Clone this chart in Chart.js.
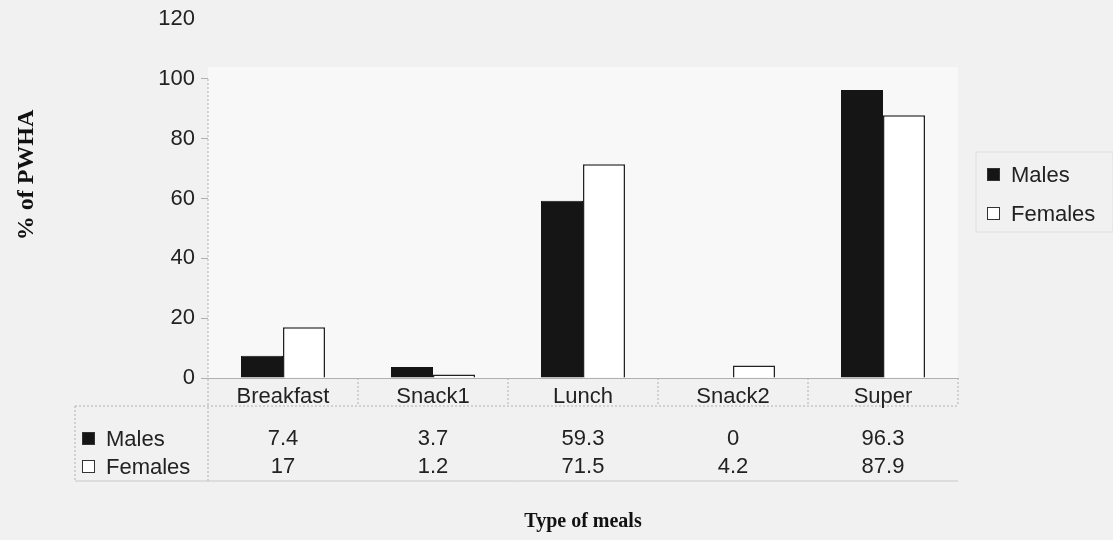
<!DOCTYPE html>
<html>
<head>
<meta charset="utf-8">
<script src="https://cdn.jsdelivr.net/npm/chart.js@4.4.0/dist/chart.umd.min.js"></script>
<style>
  html, body { margin: 0; padding: 0; background: #f1f1f1; }
  #wrap { width: 1113px; height: 540px; }
</style>
</head>
<body>
<div id="wrap"><canvas id="Chart" width="1113" height="540"></canvas></div>
<script>
// meals and % of PWHA per sex
const meals = ['Breakfast', 'Snack1', 'Lunch', 'Snack2', 'Super'];
const males = [7.4, 3.7, 59.3, 0, 96.3];
const females = [17, 1.2, 71.5, 4.2, 87.9];
const yTicks = [0, 20, 40, 60, 80, 100, 120];

const sansFont = '"Liberation Sans", Arial, sans-serif';
const serifFont = '"Liberation Serif", "Times New Roman", serif';
const lineGray = '#b0b0b0';

// draws the data table under the bars, the titles and the side legend
const tablePlugin = {
    id: 'tablePlugin',
    beforeDraw(chart) {
        const ctx = chart.ctx;
        const area = chart.chartArea;
        const y = chart.scales.y;
        ctx.save();
        ctx.fillStyle = '#f1f1f1';
        ctx.fillRect(0, 0, chart.width, chart.height);
        // lighter plot area
        ctx.fillStyle = '#f8f8f8';
        const top = y.getPixelForValue(104);
        ctx.fillRect(area.left, top, area.right - area.left, area.bottom - top);
        ctx.restore();
    },
    afterDraw(chart) {
        const ctx = chart.ctx;
        const area = chart.chartArea;
        const x = chart.scales.x;
        const y = chart.scales.y;
        const ds = chart.data.datasets;
        const half = (x.getPixelForValue(1) - x.getPixelForValue(0)) / 2;

        const labelRowBottom = area.bottom + 28;
        const rowMid = [area.bottom + 61, area.bottom + 89];
        const tableLeft = 75;
        const tableBottom = area.bottom + 103;

        ctx.save();
        ctx.strokeStyle = lineGray;
        ctx.lineWidth = 1;
        ctx.setLineDash([2, 2]);

        // value axis line and table lines
        ctx.beginPath();
        ctx.moveTo(area.left, y.getPixelForValue(100));
        ctx.lineTo(area.left, tableBottom);
        ctx.moveTo(tableLeft, labelRowBottom);
        ctx.lineTo(area.right, labelRowBottom);
        ctx.moveTo(tableLeft, labelRowBottom);
        ctx.lineTo(tableLeft, tableBottom);
        for (let i = 0; i < meals.length; i++) {
            const bx = x.getPixelForValue(i) + half;
            ctx.moveTo(bx, area.bottom);
            ctx.lineTo(bx, labelRowBottom);
        }
        ctx.stroke();
        ctx.setLineDash([]);
        ctx.strokeStyle = '#c8c8c8';
        ctx.beginPath();
        ctx.moveTo(tableLeft, tableBottom);
        ctx.lineTo(area.right, tableBottom);
        ctx.stroke();

        ctx.fillStyle = '#222';
        ctx.font = '22px ' + sansFont;
        ctx.textAlign = 'center';
        ctx.textBaseline = 'middle';
        for (let i = 0; i < meals.length; i++) {
            const cx = x.getPixelForValue(i);
            ctx.fillText(meals[i], cx, area.bottom + 19);
            ds.forEach(function(d, r) {
                ctx.fillText(String(d.data[i]), cx, rowMid[r]);
            });
        }

        // row headers with keys
        ds.forEach(function(d, r) {
            const ky = rowMid[r];
            drawKey(ctx, 82, ky, d);
            ctx.fillStyle = '#222';
            ctx.textAlign = 'left';
            ctx.fillText(d.label, 106, ky + 1);
        });

        // side legend
        ctx.strokeStyle = '#dedede';
        ctx.strokeRect(976, 152, 137, 80);
        ds.forEach(function(d, r) {
            const ly = 175 + r * 39;
            drawKey(ctx, 987, ly, d);
            ctx.fillStyle = '#222';
            ctx.textAlign = 'left';
            ctx.fillText(d.label, 1011, ly + 1);
        });

        // axis titles
        ctx.fillStyle = '#111';
        ctx.font = 'bold 20px ' + serifFont;
        ctx.textAlign = 'center';
        ctx.fillText('Type of meals', (area.left + area.right) / 2, 522);
        ctx.translate(27, 175);
        ctx.rotate(-Math.PI / 2);
        ctx.font = 'bold 24px ' + serifFont;
        ctx.fillText('% of PWHA', 0, 0);
        ctx.restore();
    }
};

function drawKey(ctx, kx, ky, d) {
    ctx.save();
    ctx.fillStyle = d.backgroundColor;
    ctx.fillRect(kx, ky - 7, 13, 13);
    ctx.strokeStyle = '#333';
    ctx.lineWidth = 1;
    ctx.strokeRect(kx + 0.5, ky - 6.5, 12, 12);
    ctx.restore();
}

var chart = document.getElementById('Chart').getContext('2d');
const myChart = new Chart(chart, {
    type: 'bar',
    data: {
        labels: meals,
        datasets: [{
            label: 'Males',
            data: males,
            backgroundColor: '#151515',
            borderColor: '#151515',
            borderWidth: 1
        }, {
            label: 'Females',
            data: females,
            backgroundColor: '#ffffff',
            borderColor: '#222222',
            borderWidth: 1.5
        }]
    },
    options: {
        responsive: false,
        animation: false,
        layout: {
            padding: { left: 0, right: 155, top: 17, bottom: 154 }
        },
        datasets: {
            bar: { barPercentage: 1, categoryPercentage: 0.56 }
        },
        plugins: {
            legend: { display: false },
            tooltip: { enabled: false }
        },
        scales: {
            x: {
                grid: { display: false },
                ticks: { display: false },
                border: { color: lineGray, dash: [2, 2] }
            },
            y: {
                min: 0,
                max: 120,
                afterFit: function(scale) { scale.width = 208; },
                afterBuildTicks: function(scale) {
                    scale.ticks = yTicks.map(function(v) { return { value: v }; });
                },
                grid: {
                    drawOnChartArea: false,
                    tickLength: 7,
                    color: function(c) { return c.tick && c.tick.value > 100 ? 'rgba(0,0,0,0)' : lineGray; }
                },
                border: { display: false },
                ticks: {
                    padding: 6,
                    color: '#222',
                    font: { family: sansFont, size: 22 }
                }
            }
        }
    },
    plugins: [tablePlugin]
});
</script>
</body>
</html>
